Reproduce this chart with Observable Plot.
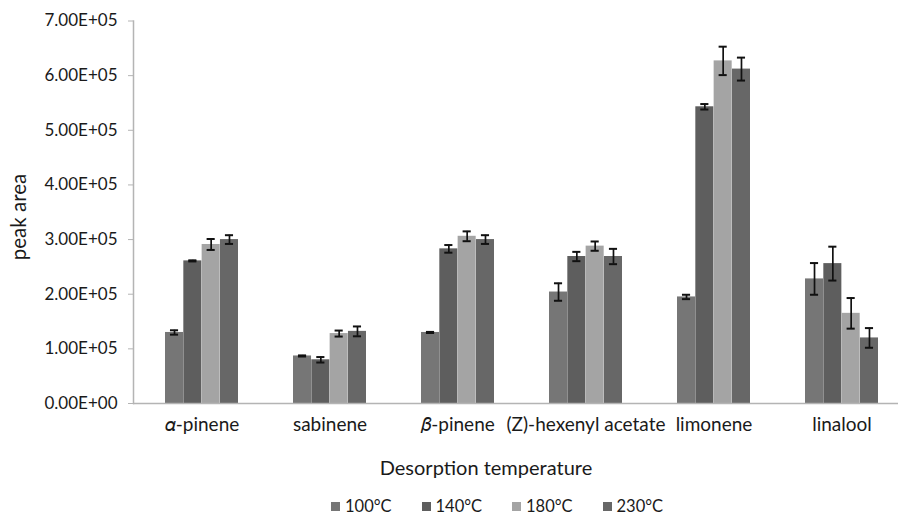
<!DOCTYPE html>
<html><head><meta charset="utf-8">
<script src="https://cdn.jsdelivr.net/npm/d3@7"></script>
<script src="https://cdn.jsdelivr.net/npm/@observablehq/plot@0.6"></script>
<style>
body{margin:0;background:#fff;}
#wrap{position:relative;width:898px;height:515px;overflow:hidden;background:#fff;font-family:Lato,"Open Sans",sans-serif;color:#1a1a1a;}
#wrap svg{position:absolute;left:0;top:0;}
#ytitle{position:absolute;left:18px;top:217px;transform:translate(-50%,-50%) rotate(-90deg);font-size:20.5px;line-height:22px;white-space:nowrap;}
#xtitle{position:absolute;left:486px;top:467px;transform:translate(-50%,-50%);font-size:20px;line-height:22px;white-space:nowrap;}
#legend{position:absolute;left:331px;top:498px;display:flex;font-size:16.5px;line-height:16px;height:16px;}
#legend .item{width:90.5px;height:16px;display:flex;align-items:center;white-space:nowrap;}
#legend .sw{width:9px;height:9px;margin-right:5px;}
#legend .tx{display:inline-block;height:16px;line-height:16px;}
</style></head><body>
<div id="wrap"><div id="ytitle">peak area</div><div id="xtitle">Desorption temperature</div><div id="legend"></div></div>
<script>
const categories = ["𝛼-pinene", "sabinene", "𝛽-pinene", "(Z)-hexenyl acetate", "limonene", "linalool"];
const temperatures = ["100°C", "140°C", "180°C", "230°C"];
const mean100 = [1.30e5, 0.87e5, 1.30e5, 2.04e5, 1.95e5, 2.28e5];
const mean140 = [2.61e5, 0.80e5, 2.83e5, 2.69e5, 5.43e5, 2.56e5];
const mean180 = [2.91e5, 1.28e5, 3.06e5, 2.88e5, 6.27e5, 1.65e5];
const mean230 = [3.00e5, 1.32e5, 3.00e5, 2.69e5, 6.12e5, 1.20e5];
const err100 = [0.04e5, 0.01e5, 0.01e5, 0.16e5, 0.04e5, 0.29e5];
const err140 = [0.01e5, 0.05e5, 0.07e5, 0.085e5, 0.05e5, 0.31e5];
const err180 = [0.10e5, 0.055e5, 0.09e5, 0.085e5, 0.26e5, 0.28e5];
const err230 = [0.08e5, 0.09e5, 0.08e5, 0.14e5, 0.21e5, 0.18e5];
const yTicks = [0, 1e5, 2e5, 3e5, 4e5, 5e5, 6e5, 7e5];
const colors = ["#767676", "#5e5e5e", "#a4a4a4", "#676767"];

const means = [mean100, mean140, mean180, mean230];
const errs = [err100, err140, err180, err230];

const W = 898, H = 515;
const mL = 133, mR = -11, mT = 20.5, mB = 112;
const padIn = 0.43, padOut = 0.233;
const step = (W - mR - mL) / (categories.length - padIn + 2 * padOut);
const bw = step * (1 - padIn);
const q = bw / 4;
const capHalf = 4.2;

const fmt = d => {
  if (d === 0) return "0.00E+00";
  const e = Math.floor(Math.log10(d));
  return (d / Math.pow(10, e)).toFixed(2) + "E+" + String(e).padStart(2, "0");
};

const marks = [];
temperatures.forEach((t, i) => {
  const rows = categories.map((c, k) => ({cat: c, v: means[i][k], e: errs[i][k]}));
  marks.push(Plot.barY(rows, {x: "cat", y: "v", fill: colors[i], insetLeft: i * q, insetRight: (3 - i) * q}));
});
temperatures.forEach((t, i) => {
  const rows = categories.map((c, k) => ({cat: c, v: means[i][k], e: errs[i][k]}));
  marks.push(Plot.ruleX(rows, {x: "cat", y1: d => d.v - d.e, y2: d => d.v + d.e, dx: (i - 1.5) * q, stroke: "#111", strokeWidth: 1.7}));
  marks.push(Plot.tickY(rows, {x: "cat", y: d => d.v + d.e, insetLeft: (i + 0.5) * q - capHalf, insetRight: bw - (i + 0.5) * q - capHalf, stroke: "#111", strokeWidth: 2}));
  marks.push(Plot.tickY(rows, {x: "cat", y: d => d.v - d.e, insetLeft: (i + 0.5) * q - capHalf, insetRight: bw - (i + 0.5) * q - capHalf, stroke: "#111", strokeWidth: 2}));
});
marks.push(Plot.ruleY([0], {stroke: "#b4b4b4", strokeWidth: 1.5}));
marks.push(Plot.frame({anchor: "left", stroke: "#b4b4b4", strokeWidth: 1.5}));
marks.push(Plot.axisY({ticks: yTicks, tickFormat: fmt, tickSize: 5, tickPadding: 11, stroke: "#b4b4b4", fill: "#1a1a1a", fontSize: 17, label: null}));
marks.push(Plot.axisX({tickSize: 0, tickPadding: 14, fill: "#1a1a1a", fontSize: 19, label: null}));

const chart = Plot.plot({
  width: W, height: H,
  marginLeft: mL, marginRight: mR, marginTop: mT, marginBottom: mB,
  style: {fontFamily: "Lato, 'Open Sans', sans-serif", fontSize: "15px", background: "transparent", overflow: "visible"},
  x: {domain: categories, paddingInner: padIn, paddingOuter: padOut},
  y: {domain: [0, 7e5]},
  marks
});
document.getElementById("wrap").prepend(chart);

const leg = document.getElementById("legend");
temperatures.forEach((t, i) => {
  const it = document.createElement("div"); it.className = "item";
  const sw = document.createElement("div"); sw.className = "sw"; sw.style.background = colors[i];
  const tx = document.createElement("span"); tx.className = "tx"; tx.textContent = t;
  it.append(sw, tx); leg.append(it);
});
</script>
</body></html>
